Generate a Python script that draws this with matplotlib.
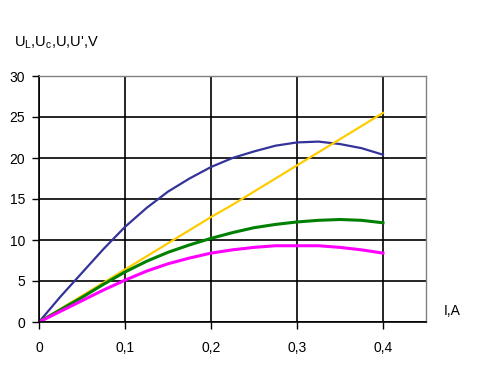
import matplotlib
matplotlib.use('Agg')
import matplotlib.pyplot as plt

plt.rcParams['font.family'] = 'Liberation Sans'
plt.rcParams['mathtext.fontset'] = 'custom'
plt.rcParams['mathtext.rm'] = 'Liberation Sans'

# current, A
current = [0, 0.025, 0.05, 0.075, 0.1, 0.125, 0.15, 0.175, 0.2,
           0.225, 0.25, 0.275, 0.3, 0.325, 0.35, 0.375, 0.4]
# voltages, V
u_l = [0, 3.1, 6.0, 8.9, 11.6, 13.9, 15.9, 17.5, 18.9,
       20.0, 20.8, 21.5, 21.9, 22.0, 21.7, 21.2, 20.4]
u_c = [0, 1.6, 3.2, 4.8, 6.4, 8.0, 9.6, 11.2, 12.8,
       14.3, 15.9, 17.5, 19.1, 20.7, 22.3, 23.9, 25.5]
u = [0, 1.5, 3.0, 4.6, 6.1, 7.4, 8.5, 9.4, 10.2,
     10.9, 11.5, 11.9, 12.2, 12.4, 12.5, 12.4, 12.1]
u_prime = [0, 1.3, 2.6, 3.9, 5.1, 6.2, 7.1, 7.8, 8.4,
           8.8, 9.1, 9.3, 9.3, 9.3, 9.1, 8.8, 8.4]

xticks = [0, 0.1, 0.2, 0.3, 0.4]
xtick_labels = ['0', '0,1', '0,2', '0,3', '0,4']
yticks = [0, 5, 10, 15, 20, 25, 30]

fig = plt.figure(figsize=(4.95, 3.8), dpi=100)
ax = fig.add_axes([39/495, 58/380, 387/495, 246/380])

ax.plot(current, u_l, color='#333399', lw=1.6)
ax.plot(current, u_c, color='#FFCC00', lw=1.6)
ax.plot(current, u, color='#008000', lw=2.2)
ax.plot(current, u_prime, color='#FF00FF', lw=2.2)

ax.set_xlim(0, 0.45)
ax.set_ylim(0, 30)
ax.set_xticks(xticks)
ax.set_xticklabels(xtick_labels)
ax.set_yticks(yticks)
ax.tick_params(labelsize=10, length=5, width=1, color='black')
ax.tick_params(axis='x', pad=9)
ax.tick_params(axis='y', pad=5)
ax.grid(True, color='black', lw=1.2)
ax.set_axisbelow(True)

for side in ['top', 'right']:
    ax.spines[side].set_color('#808080')
    ax.spines[side].set_linewidth(1)
for side in ['left', 'bottom']:
    ax.spines[side].set_color('black')
    ax.spines[side].set_linewidth(1.2)

fig.text(14/495, 1 - 43/380, r"U$_\mathrm{L}$,U$_\mathrm{c}$,U,U',V", fontsize=10.5, va='center', ha='left')
fig.text(444/495, 1 - 311/380, 'I,A', fontsize=10, va='center', ha='left')

plt.savefig('out.png', dpi=100)
